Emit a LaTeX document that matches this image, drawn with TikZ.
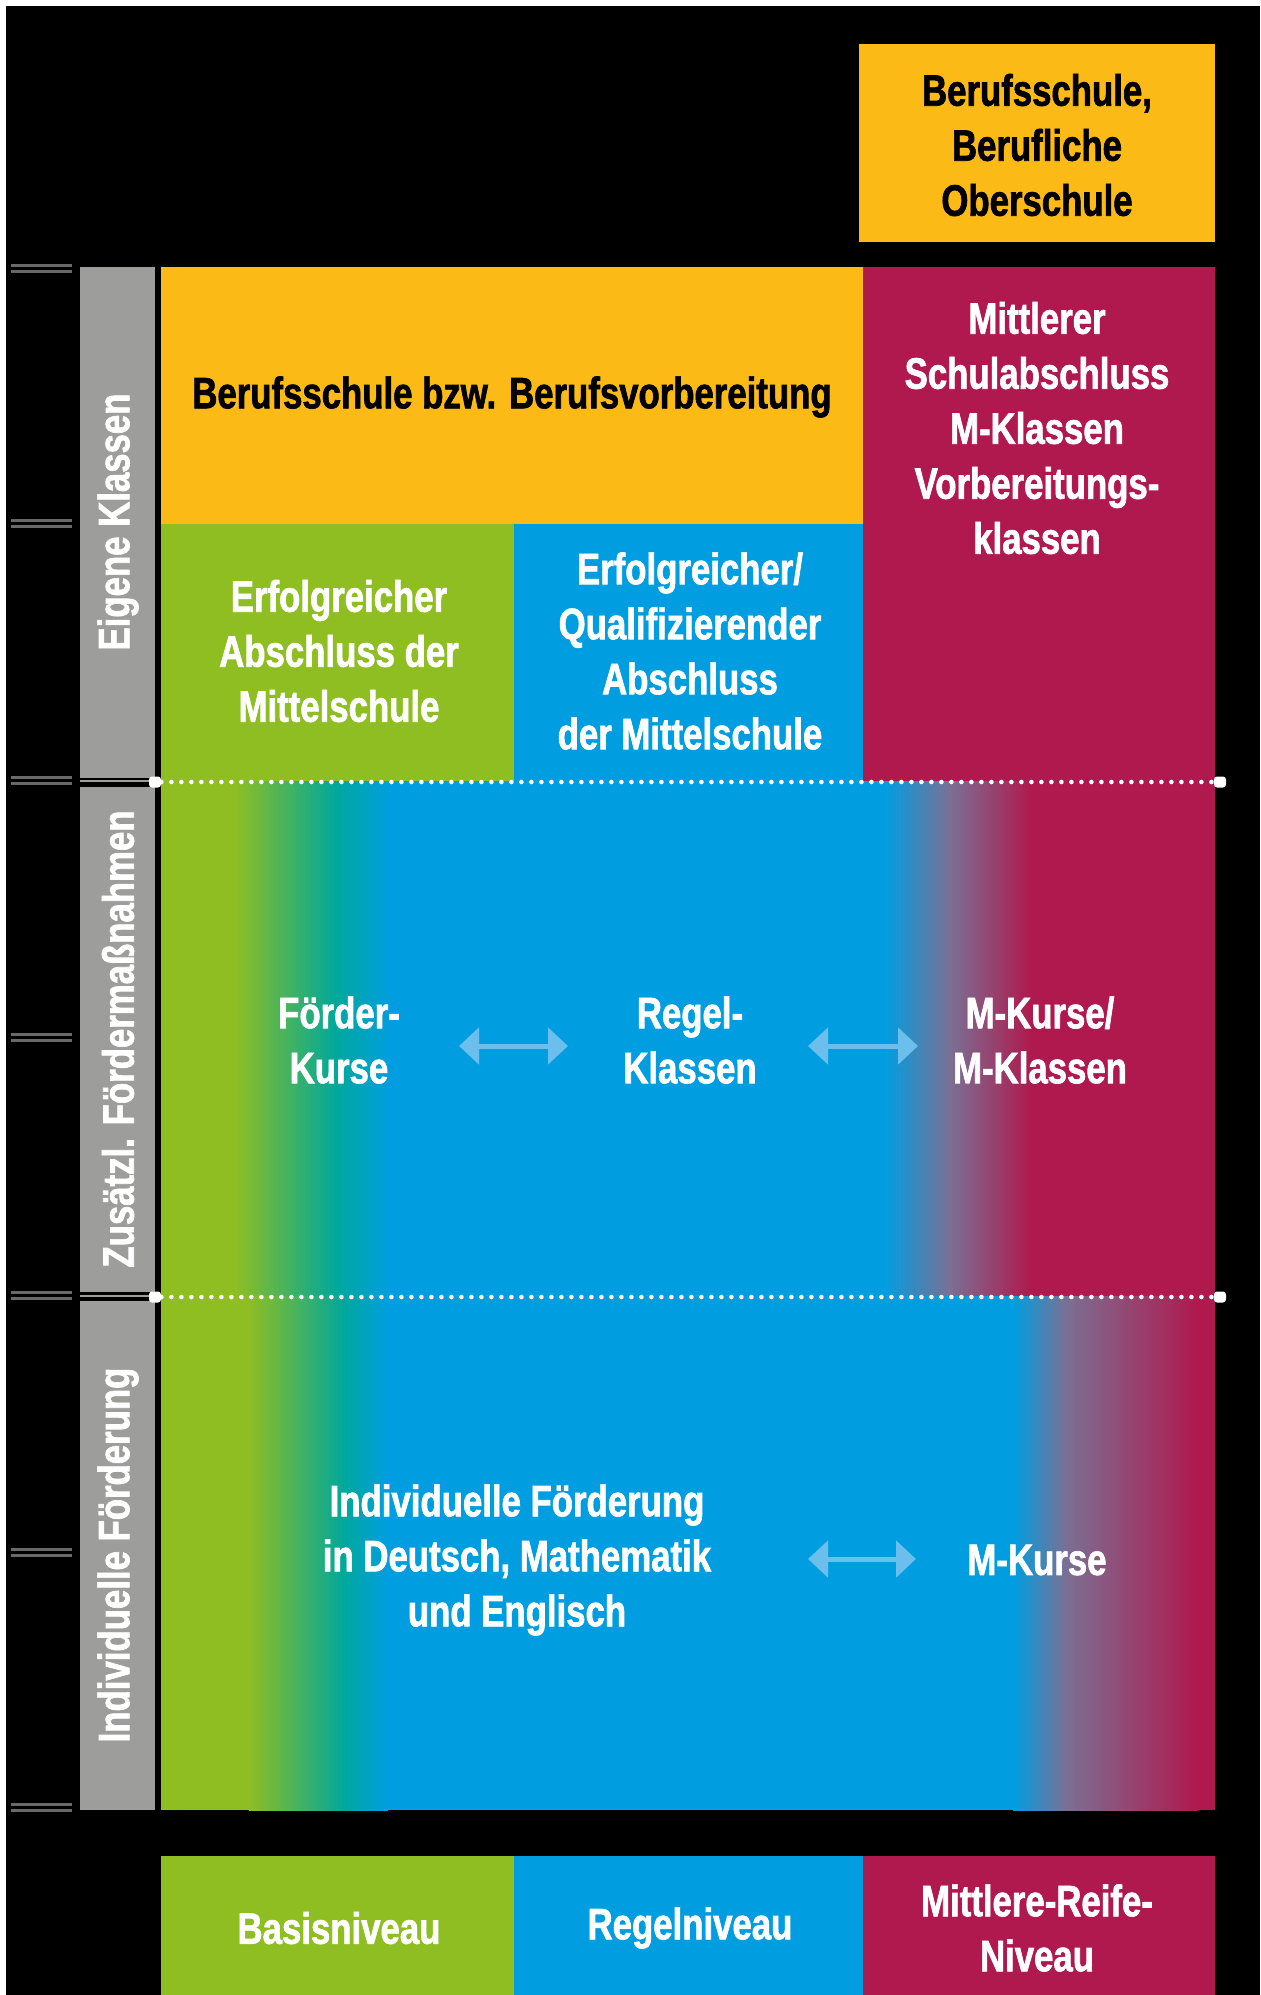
\documentclass[tikz,border=0pt]{standalone}
\usepackage{fontspec}
\setmainfont{Liberation Sans}[FakeStretch=0.79, BoldFeatures={FakeBold=1.5}]
\usetikzlibrary{positioning}
\usetikzlibrary{arrows.meta}
\definecolor{gelb}{RGB}{251,186,22}
\definecolor{gruen}{RGB}{142,190,34}
\definecolor{blau}{RGB}{0,158,224}
\definecolor{rot}{RGB}{175,25,77}
\definecolor{grau}{RGB}{157,157,156}
\definecolor{strich}{RGB}{105,105,105}
\definecolor{tuerkis}{RGB}{0,168,155}
\definecolor{lila}{RGB}{122,112,148}
\definecolor{pfeil}{RGB}{108,190,236}
\tikzset{
  txt/.style={align=center, text=white, inner sep=0pt,
    font=\bfseries\fontsize{22}{27.5}\selectfont},
  txtdunkel/.style={txt, text=black},
  seite/.style={txt, rotate=90},
  punkte/.style={white, line width=2.3pt, line cap=round, dash pattern=on 0pt off 5pt},
  kappe/.style={fill=white, rounded corners=1.5pt, minimum width=6pt, minimum height=5.5pt, inner sep=0pt},
  doppelpfeil/.style={draw=pfeil, line width=2.5pt,
    {Triangle[length=10pt,width=18pt]}-{Triangle[length=10pt,width=18pt]}}
}
\begin{document}
\begin{tikzpicture}[x=0.5pt,y=-0.5pt]
  \useasboundingbox (0,0) rectangle (1260,1995);
  \fill[white] (0,0) rectangle (1260,1995);
  \fill[black] (6,6) rectangle (1260,1995);

  % ticks on the left
  \foreach \y in {269,524,781,1038,1296,1553,1808} {
    \fill[strich] (11,\y-5) rectangle (72,\y-2);
    \fill[strich] (11,\y+1) rectangle (72,\y+4);
  }

  % grey side bars
  \fill[grau] (80,267) rectangle (155,778);
  \fill[grau] (80,787) rectangle (155,1292);
  \fill[grau] (80,1301) rectangle (155,1810);
  \draw[grau, line width=0.7pt] (80,781) -- (155,781);
  \draw[grau, line width=0.7pt] (80,1296) -- (155,1296);

  % top box
  \fill[gelb] (859,44) rectangle (1215,242);

  % Eigene Klassen
  \fill[gelb] (161,267) rectangle (863,524);
  \fill[rot] (863,267) rectangle (1215,781);
  \fill[gruen] (161,524) rectangle (514,781);
  \fill[blau] (514,524) rectangle (863,781);

  % Zusaetzl. Foerdermassnahmen
  \fill[gruen] (161,781) rectangle (236,1296);
  \shade[left color=gruen, right color=tuerkis] (235,781) rectangle (336,1296);
  \shade[left color=tuerkis, right color=blau] (335,781) rectangle (390,1296);
  \fill[blau] (389,781) rectangle (885,1296);
  \shade[left color=blau, right color=lila] (884,781) rectangle (950,1296);
  \shade[left color=lila, right color=rot] (949,781) rectangle (1032,1296);
  \fill[rot] (1031,781) rectangle (1215,1296);

  % Individuelle Foerderung
  \fill[gruen] (161,1296) rectangle (250,1810);
  \shade[left color=gruen, right color=tuerkis] (249,1296) rectangle (344,1810);
  \shade[left color=tuerkis, right color=blau] (343,1296) rectangle (388,1810);
  \fill[blau] (387,1296) rectangle (1014,1810);
  \shade[left color=blau, right color=lila] (1013,1296) rectangle (1066,1810);
  \shade[left color=lila, right color=rot] (1065,1296) rectangle (1198,1810);
  \fill[rot] (1197,1296) rectangle (1215,1810);

  % levels
  \fill[gruen] (161,1856) rectangle (514,1995);
  \fill[blau] (514,1856) rectangle (863,1995);
  \fill[rot] (863,1856) rectangle (1215,1995);

  % dotted separators
  \node[kappe] (trennAl) at (155,782) {};
  \node[kappe] (trennAr) at (1220,782) {};
  \node[kappe] (trennBl) at (155,1297) {};
  \node[kappe] (trennBr) at (1220,1297) {};
  \draw[punkte] (trennAl) -- (trennAr);
  \draw[punkte] (trennBl) -- (trennBr);

  % side labels
  \node[seite] (eigene) at (118,522) {Eigene Klassen};
  \node[seite] (zusatz) at (118,1039) {Zusätzl. Fördermaßnahmen};
  \node[seite] (indiv) at (118,1555) {Individuelle Förderung};

  % texts
  \node[txtdunkel] (oberschule) at (1037,145) {Berufsschule,\\Berufliche\\Oberschule};
  \node[txtdunkel] (berufsschule) at (512,397) {Berufsschule bzw. Berufsvorbereitung};
  \node[txt] (mittlerer) at (1037,428) {Mittlerer\\Schulabschluss\\M-Klassen\\Vorbereitungs-\\klassen};
  \node[txt] (erfolg) at (339,651) {Erfolgreicher\\Abschluss der\\Mittelschule};
  \node[txt] (quali) at (690,651) {Erfolgreicher/\\Qualifizierender\\Abschluss\\der Mittelschule};
  \node[txt] (foerder) at (339,1040) {Förder-\\Kurse};
  \node[txt] (regel) at (690,1040) {Regel-\\Klassen};
  \node[txt] (mkurse) at (1040,1040) {M-Kurse/\\M-Klassen};
  \node[txt] (individuell) at (517,1560) {Individuelle Förderung\\in Deutsch, Mathematik\\und Englisch};
  \node[txt] (mkurs) at (1037,1560) {M-Kurse};
  \node[txt] (basis) at (339,1928) {Basisniveau};
  \node[txt] (regelniveau) at (690,1928) {Regelniveau};
  \node[txt] (reife) at (1037,1928) {Mittlere-Reife-\\Niveau};

  % arrows
  \coordinate (pfeilAa) at (459,1046);
  \coordinate (pfeilAb) at (568,1046);
  \coordinate (pfeilBa) at (808,1046);
  \coordinate (pfeilBb) at (918,1046);
  \coordinate (pfeilCa) at (808,1559);
  \coordinate (pfeilCb) at (916,1559);
  \draw[doppelpfeil] (pfeilAa) -- (pfeilAb);
  \draw[doppelpfeil] (pfeilBa) -- (pfeilBb);
  \draw[doppelpfeil] (pfeilCa) -- (pfeilCb);
\end{tikzpicture}
\end{document}
